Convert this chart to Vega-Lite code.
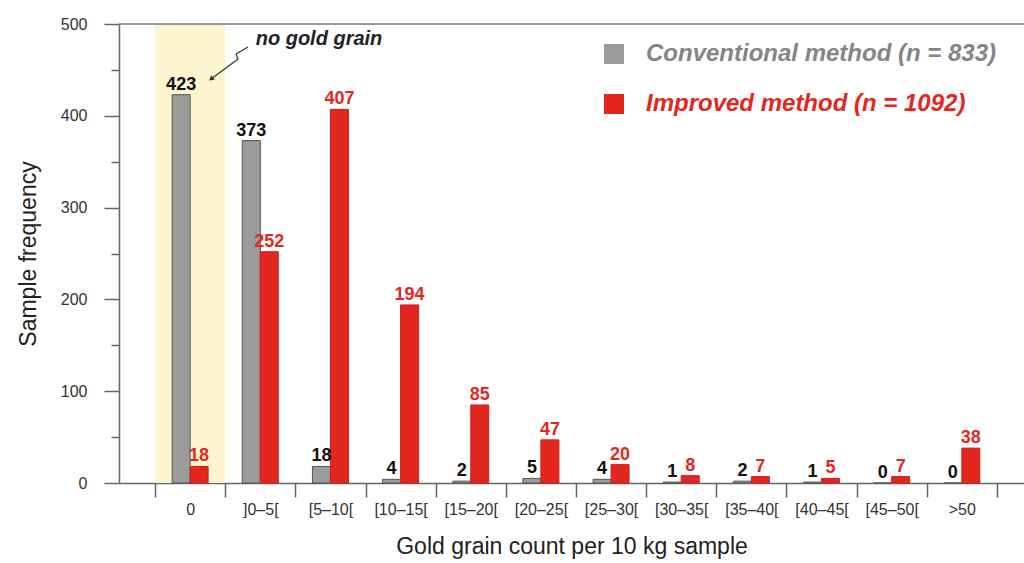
{
  "$schema": "https://vega.github.io/schema/vega-lite/v6.json",
  "width": 905,
  "height": 459,
  "autosize": {"type": "none"},
  "padding": {"left": 119, "top": 24, "right": 0, "bottom": 80},
  "background": "white",
  "config": {"view": {"stroke": null}, "font": "Liberation Sans"},
  "datasets": {
    "counts": [
      {"cat": "0", "method": "Conventional method (n = 833)", "n": 423},
      {"cat": "0", "method": "Improved method (n = 1092)", "n": 18},
      {"cat": "]0–5[", "method": "Conventional method (n = 833)", "n": 373},
      {"cat": "]0–5[", "method": "Improved method (n = 1092)", "n": 252},
      {"cat": "[5–10[", "method": "Conventional method (n = 833)", "n": 18},
      {"cat": "[5–10[", "method": "Improved method (n = 1092)", "n": 407},
      {"cat": "[10–15[", "method": "Conventional method (n = 833)", "n": 4},
      {"cat": "[10–15[", "method": "Improved method (n = 1092)", "n": 194},
      {"cat": "[15–20[", "method": "Conventional method (n = 833)", "n": 2},
      {"cat": "[15–20[", "method": "Improved method (n = 1092)", "n": 85},
      {"cat": "[20–25[", "method": "Conventional method (n = 833)", "n": 5},
      {"cat": "[20–25[", "method": "Improved method (n = 1092)", "n": 47},
      {"cat": "[25–30[", "method": "Conventional method (n = 833)", "n": 4},
      {"cat": "[25–30[", "method": "Improved method (n = 1092)", "n": 20},
      {"cat": "[30–35[", "method": "Conventional method (n = 833)", "n": 1},
      {"cat": "[30–35[", "method": "Improved method (n = 1092)", "n": 8},
      {"cat": "[35–40[", "method": "Conventional method (n = 833)", "n": 2},
      {"cat": "[35–40[", "method": "Improved method (n = 1092)", "n": 7},
      {"cat": "[40–45[", "method": "Conventional method (n = 833)", "n": 1},
      {"cat": "[40–45[", "method": "Improved method (n = 1092)", "n": 5},
      {"cat": "[45–50[", "method": "Conventional method (n = 833)", "n": 0},
      {"cat": "[45–50[", "method": "Improved method (n = 1092)", "n": 7},
      {"cat": ">50", "method": "Conventional method (n = 833)", "n": 0},
      {"cat": ">50", "method": "Improved method (n = 1092)", "n": 38}
    ],
    "highlight": [{"cat": "0", "n": 500}],
    "border": [{"v": 500}],
    "note": [{"u": 2.337, "v": 483.7, "text": "no gold grain"}],
    "arrow": [
      {"u": 1.325, "v": 474.9, "o": 1},
      {"u": 1.154, "v": 467.3, "o": 2},
      {"u": 1.183, "v": 461.9, "o": 3},
      {"u": 0.798, "v": 440.1, "o": 4}
    ],
    "tip": [{"u": 0.798, "v": 440.1}]
  },
  "resolve": {"scale": {"x": "independent", "y": "independent"}},
  "layer": [
    {
      "encoding": {
        "x": {
          "field": "cat",
          "type": "nominal",
          "sort": ["0", "]0–5[", "[5–10[", "[10–15[", "[15–20[", "[20–25[", "[25–30[", "[30–35[", "[35–40[", "[40–45[", "[45–50[", ">50"],
          "scale": {"paddingInner": 0, "paddingOuter": 0.45, "align": 0.571},
          "title": "Gold grain count per 10 kg sample",
          "axis": {
            "tickBand": "extent",
            "tickSize": 14,
            "labelPadding": 4,
            "labelAngle": 0,
            "labelFontSize": 16,
            "labelColor": "#333333",
            "domainColor": "#666666",
            "tickColor": "#666666",
            "domainWidth": 1.5,
            "tickWidth": 1.5,
            "titleFontSize": 23,
            "titleFontWeight": "normal",
            "titleColor": "#222222",
            "titlePadding": 18
          }
        }
      },
      "layer": [
        {
          "data": {"name": "highlight"},
          "mark": {"type": "bar", "color": "#fcf5cf"},
          "encoding": {
            "y": {"field": "n", "type": "quantitative", "scale": {"domain": [0, 500], "nice": false}, "title": "Sample frequency"}
          }
        },
        {
          "data": {"name": "counts"},
          "mark": {"type": "bar", "strokeWidth": 1},
          "encoding": {
            "y": {
              "field": "n",
              "type": "quantitative",
              "scale": {"domain": [0, 500], "nice": false},
              "title": "Sample frequency",
              "axis": {
                "values": [0, 50, 100, 150, 200, 250, 300, 350, 400, 450, 500],
                "labelExpr": "datum.value % 100 === 0 ? datum.label : ''",
                "tickSize": {"condition": {"test": "datum.value % 100 === 0", "value": 15}, "value": 8},
                "labelPadding": 17,
                "grid": false,
                "domainColor": "#666666",
                "tickColor": "#666666",
                "domainWidth": 1.5,
                "tickWidth": 1.5,
                "labelFontSize": 16,
                "labelColor": "#333333",
                "titleFontSize": 23,
                "titleFontWeight": "normal",
                "titleColor": "#222222",
                "titlePadding": 20
              }
            },
            "xOffset": {
              "field": "method",
              "type": "nominal",
              "sort": ["Conventional method (n = 833)", "Improved method (n = 1092)"],
              "scale": {"paddingInner": 0, "paddingOuter": 0.95}
            },
            "color": {
              "field": "method",
              "type": "nominal",
              "scale": {"domain": ["Conventional method (n = 833)", "Improved method (n = 1092)"], "range": ["#9b9b9b", "#e3271f"]},
              "legend": {
                "orient": "none",
                "legendX": 483,
                "legendY": 18,
                "title": null,
                "padding": 0,
                "symbolType": "square",
                "symbolSize": 400,
                "symbolStrokeWidth": 0,
                "symbolOpacity": 1,
                "labelFontSize": 24,
                "labelFontStyle": "italic",
                "labelFontWeight": "bold",
                "labelOffset": 20,
                "labelLimit": 600,
                "rowPadding": 26,
                "labelColor": {"expr": "test(/Improved/, datum.label) ? '#e3271f' : '#858585'"}
              }
            },
            "stroke": {
              "field": "method",
              "type": "nominal",
              "scale": {"domain": ["Conventional method (n = 833)", "Improved method (n = 1092)"], "range": ["#555555", "#c9201a"]},
              "legend": null
            }
          }
        },
        {
          "data": {"name": "counts"},
          "mark": {"type": "text", "fontSize": 18, "fontWeight": "bold", "baseline": "alphabetic", "dy": -5},
          "encoding": {
            "y": {"field": "n", "type": "quantitative", "scale": {"domain": [0, 500], "nice": false}},
            "xOffset": {
              "field": "method",
              "type": "nominal",
              "sort": ["Conventional method (n = 833)", "Improved method (n = 1092)"],
              "scale": {"paddingInner": 0, "paddingOuter": 0.95}
            },
            "text": {"field": "n", "type": "quantitative"},
            "fill": {
              "field": "method",
              "type": "nominal",
              "scale": {"domain": ["Conventional method (n = 833)", "Improved method (n = 1092)"], "range": ["#111111", "#e3271f"]},
              "legend": null
            }
          }
        }
      ]
    },
    {
      "layer": [
        {
          "data": {"name": "border"},
          "mark": {"type": "rule", "color": "#777777", "strokeWidth": 1.5},
          "encoding": {
            "y": {"field": "v", "type": "quantitative", "scale": {"domain": [0, 500], "nice": false}, "axis": null}
          }
        },
        {
          "data": {"name": "arrow"},
          "mark": {"type": "line", "color": "#333333", "strokeWidth": 1.2},
          "encoding": {
            "x": {"field": "u", "type": "quantitative", "scale": {"domain": [-0.514, 12.386], "nice": false, "zero": false}, "axis": null},
            "y": {"field": "v", "type": "quantitative", "scale": {"domain": [0, 500], "nice": false}, "axis": null},
            "order": {"field": "o"}
          }
        },
        {
          "data": {"name": "tip"},
          "mark": {"type": "point", "shape": "triangle-up", "filled": true, "color": "#333333", "size": 30, "angle": 233, "opacity": 1},
          "encoding": {
            "x": {"field": "u", "type": "quantitative", "scale": {"domain": [-0.514, 12.386], "nice": false, "zero": false}, "axis": null},
            "y": {"field": "v", "type": "quantitative", "scale": {"domain": [0, 500], "nice": false}, "axis": null}
          }
        },
        {
          "data": {"name": "note"},
          "mark": {"type": "text", "fontSize": 20, "fontWeight": "bold", "fontStyle": "italic", "color": "#222222", "baseline": "middle", "align": "center"},
          "encoding": {
            "x": {"field": "u", "type": "quantitative", "scale": {"domain": [-0.514, 12.386], "nice": false, "zero": false}, "axis": null},
            "y": {"field": "v", "type": "quantitative", "scale": {"domain": [0, 500], "nice": false}, "axis": null},
            "text": {"field": "text"}
          }
        }
      ]
    }
  ]
}
